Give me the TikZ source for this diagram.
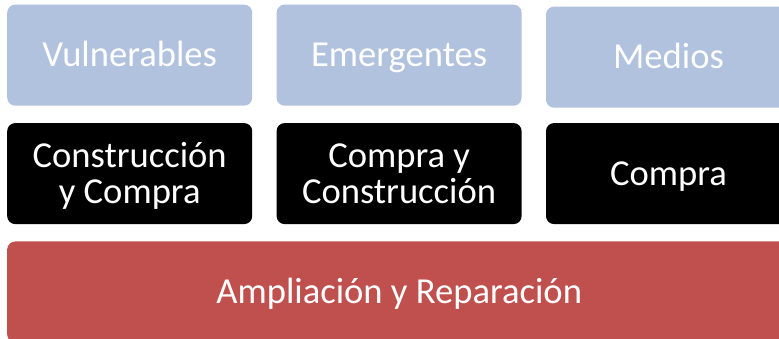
\documentclass[tikz,border=0pt]{standalone}
\usepackage{fontspec}
\setmainfont{Carlito}
\usetikzlibrary{positioning}
\definecolor{levelblue}{HTML}{B0C2DE}
\definecolor{levelred}{HTML}{C0504D}
\tikzset{
    level box/.style = {
        rectangle,
        rounded corners=8pt,
        minimum width=245pt,
        minimum height=101pt,
        inner sep=0pt,
        align=center,
        text=white,
        font=\fontsize{36.6}{36}\selectfont,
        text height=23.4pt,
        text depth=0pt,
        },
    two lines/.style = {
        text height=59.4pt,
        },
    group box/.style = {
        level box,
        fill = levelblue,
        },
    mode box/.style = {
        level box,
        fill = black,
        },
    base box/.style = {
        level box,
        fill = levelred,
        minimum width=784pt,
        },
}
\begin{document}
\begin{tikzpicture}
    \useasboundingbox (0,0) rectangle (779pt,339pt);
    \clip (0,0) rectangle (779pt,339pt);

    % top row
    \node[group box, anchor=north west] (vuln) at (7pt,334.5pt) {Vulnerables};
    \node[group box, right=24pt of vuln] (emer) {Emergentes};
    \node[group box, right=24pt of emer, yshift=-2pt] (medi) {Medios};

    % middle row
    \node[mode box, two lines, below=17pt of vuln] (cons) {Construcción\\y Compra};
    \node[mode box, two lines, below=17pt of emer] (comc) {Compra y\\Construcción};
    \node[mode box, right=24pt of comc] (comp) {Compra};

    % base
    \node[base box, below=17pt of cons.south west, anchor=north west] (ampl) {Ampliación y Reparación};
\end{tikzpicture}
\end{document}
